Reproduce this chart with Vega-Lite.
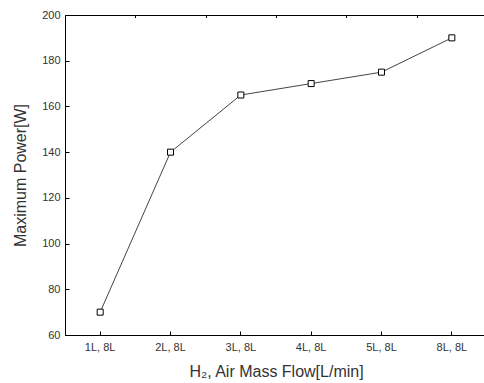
{
  "$schema": "https://vega.github.io/schema/vega-lite/v6.json",
  "width": 422,
  "height": 320,
  "autosize": "none",
  "padding": {"left": 65, "top": 15, "right": 0, "bottom": 48},
  "background": "white",
  "config": {
    "font": "Liberation Sans",
    "view": {"stroke": "black", "strokeWidth": 1}
  },
  "data": {
    "values": [
      {"flow": "1L, 8L", "power": 70},
      {"flow": "2L, 8L", "power": 140},
      {"flow": "3L, 8L", "power": 165},
      {"flow": "4L, 8L", "power": 170},
      {"flow": "5L, 8L", "power": 175},
      {"flow": "8L, 8L", "power": 190}
    ]
  },
  "layer": [
    {
      "mark": {"type": "line", "color": "#444444", "strokeWidth": 1},
      "encoding": {
        "x": {
          "field": "flow", "type": "ordinal", "sort": null,
          "scale": {"type": "band", "paddingInner": 0, "paddingOuter": 0},
          "axis": {
            "title": "H₂, Air Mass Flow[L/min]",
            "titleFont": "Liberation Sans", "titleFontSize": 16, "titleFontWeight": "normal",
            "titleColor": "#333333", "titlePadding": 11,
            "labelFont": "Liberation Sans", "labelFontSize": 11, "labelColor": "#333333",
            "labelAngle": 0, "labelPadding": 10,
            "domainColor": "black", "domainWidth": 1,
            "tickColor": "black", "tickSize": -4, "tickWidth": 1,
            "grid": false
          }
        },
        "y": {
          "field": "power", "type": "quantitative",
          "scale": {"domain": [60, 200], "nice": false, "zero": false},
          "axis": {
            "title": "Maximum Power[W]",
            "titleFont": "Liberation Sans", "titleFontSize": 16, "titleFontWeight": "normal",
            "titleColor": "#333333", "titlePadding": 13,
            "values": [60, 70, 80, 90, 100, 110, 120, 130, 140, 150, 160, 170, 180, 190, 200],
            "labelExpr": "datum.value % 20 === 0 ? datum.label : ''",
            "labelFont": "Liberation Sans", "labelFontSize": 11, "labelColor": "#333333",
            "labelPadding": 9,
            "domainColor": "black", "domainWidth": 1,
            "tickColor": "black", "tickWidth": 1,
            "tickSize": {"condition": {"test": "datum.value % 20 === 0", "value": -4}, "value": -2.5},
            "grid": false
          }
        }
      }
    },
    {
      "mark": {"type": "point", "shape": "square", "filled": true, "fill": "white", "stroke": "black", "strokeWidth": 1, "size": 36, "opacity": 1},
      "encoding": {
        "x": {
          "field": "flow", "type": "ordinal", "sort": null,
          "scale": {"type": "band", "paddingInner": 0, "paddingOuter": 0},
          "axis": {
            "title": null, "labels": false, "domain": false,
            "tickBand": "extent", "tickColor": "black", "tickSize": -2.5, "tickWidth": 1,
            "grid": false
          }
        },
        "y": {"field": "power", "type": "quantitative"}
      }
    }
  ],
  "resolve": {"axis": {"x": "independent"}}
}
